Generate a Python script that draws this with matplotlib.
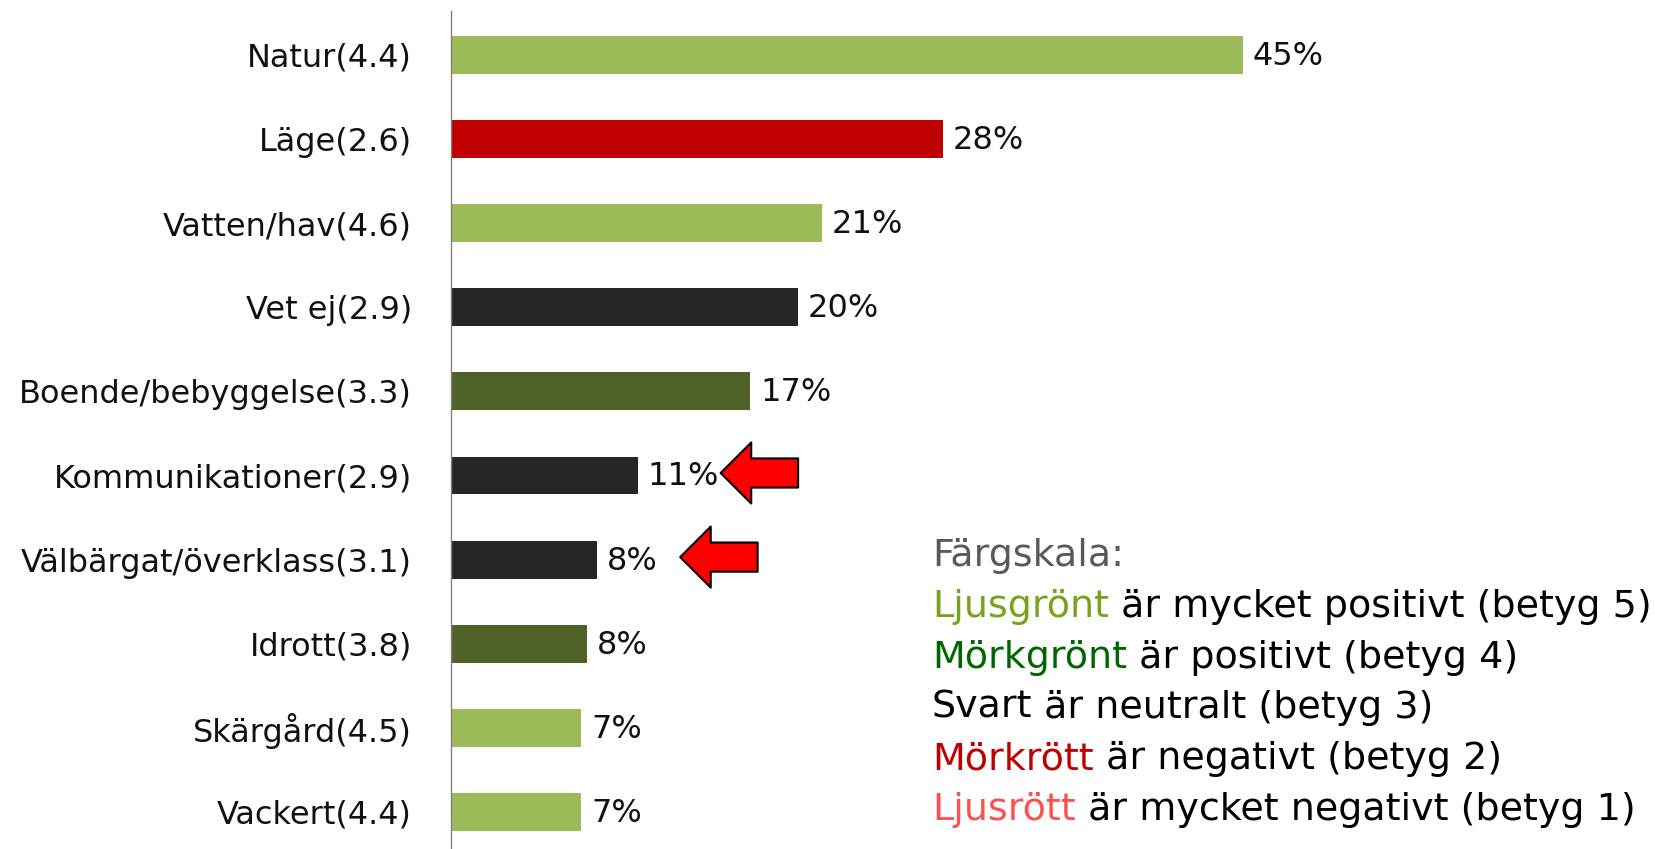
import matplotlib.pyplot as plt

plt.rcParams['font.family'] = ['DejaVu Sans']

categories = ['Natur(4.4)', 'Läge(2.6)', 'Vatten/hav(4.6)', 'Vet ej(2.9)',
              'Boende/bebyggelse(3.3)', 'Kommunikationer(2.9)',
              'Välbärgat/överklass(3.1)', 'Idrott(3.8)', 'Skärgård(4.5)', 'Vackert(4.4)']
values = [45.0, 27.95, 21.05, 19.7, 17.0, 10.6, 8.3, 7.74, 7.4, 7.4]
ratings = [5, 2, 5, 3, 4, 3, 3, 4, 5, 5]
highlighted = ['Kommunikationer(2.9)', 'Välbärgat/överklass(3.1)']

bar_colors = {5: '#9BBB59', 4: '#4F6228', 3: '#262626', 2: '#C00000', 1: '#FF5050'}

legend_title = 'Färgskala:'
legend_words = ['Ljusgrönt', 'Mörkgrönt', 'Svart', 'Mörkrött', 'Ljusrött']
legend_rest = [' är mycket positivt (betyg 5)', ' är positivt (betyg 4)',
               ' är neutralt (betyg 3)', ' är negativt (betyg 2)',
               ' är mycket negativt (betyg 1)']
legend_colors = ['#76A31A', '#006600', '#000000', '#C00000', '#FF5050']

fig = plt.figure(figsize=(16.55, 8.49), dpi=100)
ax = fig.add_axes([451 / 1655, 0, 1 - 451 / 1655, 1 - 10.5 / 849])

ypos = list(range(len(categories)))
ax.barh(ypos, values, height=0.45, color=[bar_colors[r] for r in ratings])

for y, v in zip(ypos, values):
    ax.annotate(f'{round(v)}%', xy=(v, y), xytext=(7, -1), textcoords='offset points',
                va='center', ha='left', fontsize=23, color='#111111')

# red arrows pointing at the two highlighted labels
for name in highlighted:
    i = categories.index(name)
    tip = values[i] + 4.72
    ax.annotate('', xy=(tip, i - 0.03), xytext=(tip + 4.4, i - 0.03),
                arrowprops=dict(arrowstyle='simple,head_width=2.2,head_length=1.1,tail_width=1.05',
                                fc='#FF0000', ec='black', lw=1.5,
                                shrinkA=0, shrinkB=0, mutation_scale=20))

ax.set_xlim(0, 68.4)
ax.set_ylim(9.44, -0.528)
ax.set_yticks(ypos)
ax.set_yticklabels(categories, fontsize=23, color='#111111')
ax.tick_params(axis='y', length=0, pad=28)
ax.set_xticks([])
for s in ['top', 'right', 'bottom']:
    ax.spines[s].set_visible(False)
ax.spines['left'].set_color('#808080')
ax.spines['left'].set_linewidth(1)

# colour scale legend
lx = 932 / 1655
fs = 27.4
fig.text(lx, 1 - 556 / 849, legend_title, fontsize=fs, color='#595959', va='center', ha='left')
line_y = [607, 658, 708, 759, 810]
for w, r, c, yy in zip(legend_words, legend_rest, legend_colors, line_y):
    t = fig.text(lx, 1 - yy / 849, w, fontsize=fs, color=c, va='center', ha='left')
    ax.annotate(r, xy=(1, 0), xycoords=t, va='bottom', ha='left', fontsize=fs, color='black')

fig.savefig('out.png', dpi=100)
